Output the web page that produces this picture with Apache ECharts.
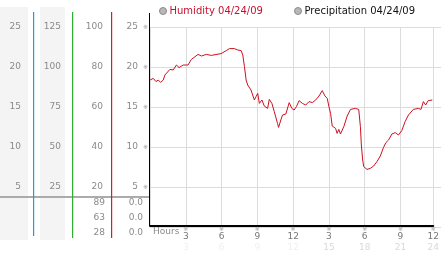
<!DOCTYPE html>
<html><head><meta charset="utf-8">
<script src="https://cdn.jsdelivr.net/npm/echarts@6/dist/echarts.min.js"></script>
<style>html,body{margin:0;padding:0;background:#fff}#c{width:442px;height:253px}</style>
</head><body><div id="c"></div>
<script>
// hours since midnight
var hours = [0,0.28,0.5,0.69,0.89,1.11,1.25,1.67,1.94,2.22,2.44,2.78,3.19,3.47,4.03,4.31,4.72,5.14,5.97,6.39,6.67,7.08,7.36,7.64,7.78,7.92,8.06,8.19,8.47,8.75,8.89,9.03,9.17,9.39,9.58,9.86,10.0,10.22,10.42,10.69,10.78,10.97,11.11,11.25,11.39,11.67,11.89,12.08,12.28,12.5,12.78,13.06,13.33,13.61,13.89,14.17,14.44,14.67,14.86,15.0,15.14,15.28,15.56,15.69,15.83,15.97,16.25,16.53,16.81,17.22,17.5,17.64,17.72,17.83,17.92,18.19,18.47,18.75,19.03,19.31,19.58,19.78,20.0,20.28,20.56,20.83,21.11,21.39,21.67,22.08,22.5,22.72,22.92,23.11,23.33,23.67];
// humidity %
var humidity = [73.5,74.3,72.7,73.5,72.3,73.5,76,78.8,78.5,81,79.7,81,81,83.8,86.3,85.5,86.3,85.8,86.7,88.2,89.2,89.2,88.5,88.2,86,80.2,73.5,71,68.5,63.5,65.2,66.8,61.8,63.5,60.5,59.3,63.8,61.8,57.7,51.8,49.8,53.5,56,55.2,56.5,62.2,59.3,58.5,60.2,63.2,61.8,61,62.7,62.2,63.5,65.5,68.2,65.5,64.3,60.2,56.8,50.5,49.3,46.8,48.8,46.5,50.2,55.5,58.8,59.3,58.8,50.2,41,33.5,30.2,28.8,29.3,30.5,32.7,35.5,39.8,42.2,43.5,46.5,47.2,46,48.2,52.7,56,58.8,59.3,58.8,62.7,61,63.2,63.5];
var precipHours = [0,3,6,9,12,15,18,21];
var precipitation = [0,0,0,0,0,0,0,0];
// tick labels
var col1Ticks = ['5','10','15','20','25'];
var col2Ticks = ['25','50','75','100','125'];
var humTicks = ['20','40','60','80','100'];
var col4Ticks = ['5','10','15','20','25'];
var hourTicks = ['3','6','9','12','3','6','9','12'];
var hour24Ticks = ['3','6','9','12','15','18','21','24'];
var humStats = ['89','63','28'];
var precipStats = ['0.0','0.0','0.0'];
var legendNames = ['Humidity 04/24/09','Precipitation 04/24/09'];

var FONT = 'DejaVu Sans';
var GREY = '#8a8a8a';
function tickIdx(v){ return Math.round(v/20)-1; }
function yAx(offset, margin, arr, extra){
  return Object.assign({
    type:'value', gridIndex:0, min:0, max:100, interval:20, position:'left', offset:offset,
    axisLine:{show:false}, axisTick:{show:false}, splitLine:{show:false},
    axisLabel:{margin:margin, fontSize:9, fontFamily:FONT, color:GREY,
      formatter:function(v){ var i=tickIdx(v); return i>=0? arr[i] : ''; }}
  }, extra||{});
}
var humData = hours.map(function(h,i){return [h, humidity[i]];});
var precData = precipHours.map(function(h,i){return [h, precipitation[i]];});

var graphics = [
  {type:'rect', shape:{x:0,y:7,width:28,height:233}, style:{fill:'#f4f4f4'}, z:-10},
  {type:'rect', shape:{x:40,y:7,width:25,height:233}, style:{fill:'#f4f4f4'}, z:-10},
  {type:'rect', shape:{x:0,y:196,width:149,height:2}, style:{fill:'#ababab'}, z:1},
  {type:'rect', shape:{x:33,y:12,width:1.2,height:224}, style:{fill:'#1e9be8'}, z:2},
  {type:'rect', shape:{x:72,y:12,width:1.2,height:226}, style:{fill:'#2fae2f'}, z:2},
  {type:'rect', shape:{x:111,y:12,width:1.2,height:226}, style:{fill:'#d0202a'}, z:2},
  {type:'rect', shape:{x:149,y:13,width:1,height:213}, style:{fill:'#000'}, z:20},
  {type:'text', left:153, top:227, style:{text:'Hours', font:'9px "'+FONT+'"', fill:GREY}, z:5}
];
humStats.forEach(function(t,i){
  graphics.push({type:'text', x:105, y:203+15*i, style:{text:t, font:'9px "'+FONT+'"', fill:GREY, textAlign:'right', textVerticalAlign:'middle'}});
});
precipStats.forEach(function(t,i){
  graphics.push({type:'text', x:143, y:203+15*i, style:{text:t, font:'9px "'+FONT+'"', fill:GREY, textAlign:'right', textVerticalAlign:'middle'}});
});

var chart = echarts.init(document.getElementById('c'), null, {renderer:'canvas'});
chart.setOption({
  animation:false,
  textStyle:{fontFamily:FONT},
  legend:[
    {left:154, top:1, itemWidth:7, itemHeight:7, icon:'circle', itemGap:0,
     textStyle:{fontSize:10, fontFamily:FONT, padding:[0,0,0,-2]},
     data:[{name:legendNames[0], itemStyle:{color:'#b8b8b8', borderColor:'#8a8a8a', borderWidth:1}, textStyle:{color:'#c8102e'}}]},
    {left:289, top:1, itemWidth:7, itemHeight:7, icon:'circle', itemGap:0,
     textStyle:{fontSize:10, fontFamily:FONT, padding:[0,0,0,-2]},
     data:[{name:legendNames[1], itemStyle:{color:'#b8b8b8', borderColor:'#8a8a8a', borderWidth:1}, textStyle:{color:'#111'}}]}
  ],
  grid:[
    {left:150, top:27, right:7, bottom:26},
    {left:150, top:27, right:1, bottom:26}
  ],
  xAxis:[
    {type:'value', gridIndex:0, min:0, max:23.75, interval:3, offset:-1,
     axisLine:{show:true, lineStyle:{color:'#000', width:2}}, axisTick:{show:false},
     splitLine:{show:true, lineStyle:{color:'#dcdcdc', width:1}},
     axisLabel:{margin:1, showMaxLabel:true, showMinLabel:true,
       formatter:function(v){
         if (v < 1) return '';
         var i = v > 22.5 ? 7 : Math.round(v/3)-1;
         return '{s|※}\n{n|'+hourTicks[i]+'}\n{'+(i<4?'f1':'f2')+'|'+hour24Ticks[i]+'}';
       },
       rich:{
         s:{fontSize:6, color:'#999', lineHeight:5, fontFamily:FONT},
         n:{fontSize:9, color:'#777', lineHeight:9, fontFamily:FONT},
         f1:{fontSize:9, color:'#f0f0f0', lineHeight:13, fontFamily:FONT},
         f2:{fontSize:9, color:'#d9d9d9', lineHeight:13, fontFamily:FONT}
       }}},
    {type:'value', gridIndex:1, min:0, max:24, show:false}
  ],
  yAxis:[
    yAx(0, 2, col4Ticks, {axisLabel:{margin:2, fontSize:9, fontFamily:FONT, color:GREY,
      formatter:function(v){ var i=tickIdx(v); return i>=0? '{n|'+col4Ticks[i]+'}{s|※}' : ''; },
      rich:{n:{fontSize:9, color:GREY, fontFamily:FONT, padding:[0,5,0,0]}, s:{fontSize:6, color:'#999', fontFamily:FONT}}}}),
    yAx(39, 8, humTicks),
    yAx(78, 11, col2Ticks),
    yAx(117, 12, col1Ticks),
    {type:'value', gridIndex:1, min:0, max:100, interval:20, axisLine:{show:false}, axisTick:{show:false},
     axisLabel:{show:false}, splitLine:{show:true, lineStyle:{color:'#dcdcdc', width:1}}}
  ],
  series:[
    {name:legendNames[0], type:'line', xAxisIndex:0, yAxisIndex:0, data:humData, showSymbol:false,
     lineStyle:{color:'#cc1020', width:1}, itemStyle:{color:'#cc1020'}, z:10},
    {name:legendNames[1], type:'bar', xAxisIndex:0, yAxisIndex:0, data:precData, barWidth:1,
     itemStyle:{color:'#333'}, z:9}
  ],
  graphic:graphics
});
</script></body></html>
